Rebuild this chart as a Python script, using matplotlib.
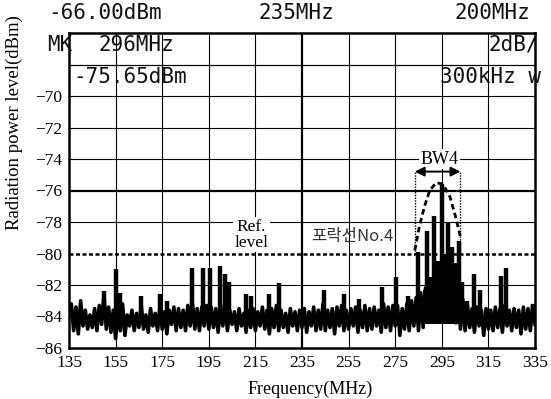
import numpy as np
import matplotlib
matplotlib.use('Agg')
import matplotlib.pyplot as plt

# noise floor trace, one reading per MHz from 135 to 335 MHz (dBm)
trace_freq = np.arange(135, 336, 1)
trace_db = [
    -84.0, -83.2, -84.9, -83.4, -85.1, -83.0, -84.6, -83.6, -84.8, -83.9,
    -84.7, -83.5, -84.9, -83.3, -84.5, -82.6, -84.8, -83.4, -85.0, -83.6,
    -85.4, -83.5, -84.9, -83.2, -85.2, -83.9, -84.6, -83.6, -84.9, -83.8,
    -84.7, -83.3, -84.8, -83.9, -85.0, -83.5, -84.6, -83.8, -84.9, -83.4,
    -84.8, -83.7, -85.1, -83.6, -84.5, -83.4, -84.9, -83.5, -84.7, -83.6,
    -84.9, -83.3, -84.6, -83.2, -84.8, -83.5, -84.9, -83.4, -84.6, -83.3,
    -84.8, -83.4, -84.7, -83.5, -85.0, -83.2, -84.6, -83.3, -84.9, -83.6,
    -84.5, -83.7, -84.9, -83.5, -84.6, -83.8, -85.0, -83.6, -84.7, -83.5,
    -84.9, -83.7, -84.6, -83.4, -84.8, -83.6, -85.1, -83.5, -84.7, -83.3,
    -84.9, -83.6, -84.7, -83.8, -85.0, -83.5, -84.6, -83.7, -84.9, -83.6,
    -84.7, -83.5, -85.0, -83.7, -84.6, -83.4, -84.9, -83.6, -84.8, -83.2,
    -84.9, -83.6, -84.7, -83.5, -85.1, -83.4, -84.6, -83.3, -84.9, -83.6,
    -84.8, -83.5, -84.6, -83.4, -85.0, -83.6, -84.7, -83.3, -84.9, -83.5,
    -84.8, -83.4, -84.6, -83.6, -85.0, -83.2, -84.7, -83.4, -84.9, -83.3,
    -84.6, -83.3, -85.2, -83.5, -84.8, -83.2, -84.9, -83.0, -84.6, -82.8,
    -84.9, -82.5, -84.7, -82.2, -84.3, -81.9, -84.0, -81.8, -83.9, -81.6,
    -83.8, -81.7, -84.2, -81.8, -84.0, -82.0, -84.4, -82.4, -84.8, -82.9,
    -84.9, -83.3, -84.7, -83.5, -85.0, -83.4, -84.6, -83.6, -85.2, -83.5,
    -84.8, -83.6, -84.9, -83.4, -84.7, -83.5, -85.0, -83.3, -84.6, -83.6,
    -84.9, -83.5, -84.7, -83.6, -85.1, -83.4, -84.8, -83.5, -84.9, -83.3,
    -84.5,
]

# narrow spurious peaks above the floor
spike_freq = [150, 155, 157, 166, 174, 177, 188, 192.5, 195.5, 200, 202, 203.7,
              211, 213, 221, 225, 244.5, 253, 259.5, 269.5, 275.5, 280.5,
              284.7, 288.6, 290, 291.7, 293.5, 295.3, 297, 297.6, 299.4, 300.5,
              302.4, 303.5, 306, 309, 311.5, 320.5, 322.5, 334]
spike_top = [-82.4, -81.0, -82.5, -82.7, -82.6, -83.0, -80.9, -80.9, -80.9, -80.8, -81.3, -81.8,
             -82.6, -82.7, -82.6, -81.9, -82.3, -82.6, -82.9, -82.1, -81.5, -82.7,
             -79.9, -78.6, -81.5, -77.6, -80.5, -75.6, -80.0, -78.0, -79.6, -80.6,
             -79.2, -81.8, -83.0, -81.3, -82.3, -81.4, -80.9, -83.2]
spike_base = -84.2

# dense emission block under the BW4 peak
core_freq = [286, 288, 290, 292, 294, 296, 298, 300, 302, 304]
core_top = [-83.0, -82.3, -81.8, -81.2, -80.6, -80.0, -80.4, -81.0, -81.8, -83.0]

# hand drawn envelope (포락선 No.4)
env_freq = [283.4, 285.5, 287.6, 289.8, 292.6, 295.5, 298.5, 300.8, 303.0]
env_db = [-79.8, -78.2, -77.0, -76.0, -75.5, -75.6, -76.4, -77.6, -78.95]

bw_lo, bw_hi = 283.4, 303.0
bw_level = -74.8
ref_level = -80

xticks = list(range(135, 336, 20))
yticks = list(range(-86, -67, 2))

W, H = 551, 399
fig = plt.figure(figsize=(W / 100, H / 100), dpi=100)
ax = fig.add_axes([69 / W, 1 - 348 / H, 466 / W, 315 / H])

serif = 'Liberation Serif'

# grid
for f in xticks[1:-1]:
    ax.axvline(f, color='black', lw=1.6 if f == 235 else 0.8, zorder=1)
for v in yticks[1:] + [-68]:
    if v == ref_level:
        continue
    ax.axhline(v, color='black', lw=1.6 if v == -76 else 0.8, zorder=1)

ax.axhline(ref_level, color='black', lw=1.8, ls=(0, (1.6, 1.0)), zorder=3)

# trace
ax.plot(trace_freq, trace_db, color='black', lw=2.6, zorder=4)
ax.vlines(spike_freq, spike_base, spike_top, color='black', lw=3.2, zorder=4)
ax.fill_between(core_freq, -84.5, core_top, step='mid', color='black', lw=0, zorder=4)

# bandwidth markers
ax.vlines([bw_lo, bw_hi], ref_level, bw_level, color='black', lw=1.0,
          ls=(0, (1, 1)), zorder=5)
ax.annotate('', xy=(bw_lo, bw_level), xytext=(bw_hi, bw_level),
            arrowprops=dict(arrowstyle='<|-|>', color='black', lw=1.4,
                            mutation_scale=14, shrinkA=0, shrinkB=0), zorder=6)
ax.plot(env_freq, env_db, color='black', lw=2.0, ls=(0, (2.0, 1.3)), zorder=6)

ax.text(294, -74.0, 'BW4', family=serif, fontsize=13, ha='center', va='center',
        bbox=dict(facecolor='white', edgecolor='none', pad=1), zorder=5)
ax.text(213.3, -78.8, 'Ref.\nlevel', family=serif, fontsize=12.5, ha='center',
        va='center', linespacing=1.0,
        bbox=dict(facecolor='white', edgecolor='none', pad=1), zorder=2)
ax.text(239, -78.9, '포락선No.4', family=['Noto Sans CJK KR', 'DejaVu Sans'],
        fontsize=12, color='#333333', ha='left', va='center', zorder=5)

ax.set_xlim(135, 335)
ax.set_ylim(-86, -66)
ax.set_xticks(xticks)
ax.set_yticks(yticks)
ax.set_xticklabels([str(x) for x in xticks], family=serif, fontsize=12.5)
ax.set_yticklabels([str(v).replace('-', '\u2212') if v != -68 else '' for v in yticks],
                   family=serif, fontsize=12.5)
ax.tick_params(length=0, pad=5)
for s in ax.spines.values():
    s.set_linewidth(1.8)

fig.text(310 / W, 1 - 389 / H, 'Frequency(MHz)', family=serif, fontsize=13,
         ha='center', va='center')
fig.text(14 / W, 1 - 123 / H, 'Radiation power level(dBm)', family=serif,
         fontsize=13.5, ha='center', va='center', rotation=90)

# analyzer readout
mono = 'DejaVu Sans Mono'
readout = [
    ('-66.00dBm', 48, 13), ('235MHz', 258, 13), ('200MHz', 455, 13),
    ('MK', 47, 45), ('296MHz', 98, 45), ('2dB/', 488, 45),
    ('-75.65dBm', 73, 77), ('300kHz w', 440, 77),
]
for txt, px, py in readout:
    fig.text(px / W, 1 - py / H, txt, family=mono, fontsize=15, ha='left',
             va='center', color='#111111')

fig.savefig('out.png', dpi=100)
